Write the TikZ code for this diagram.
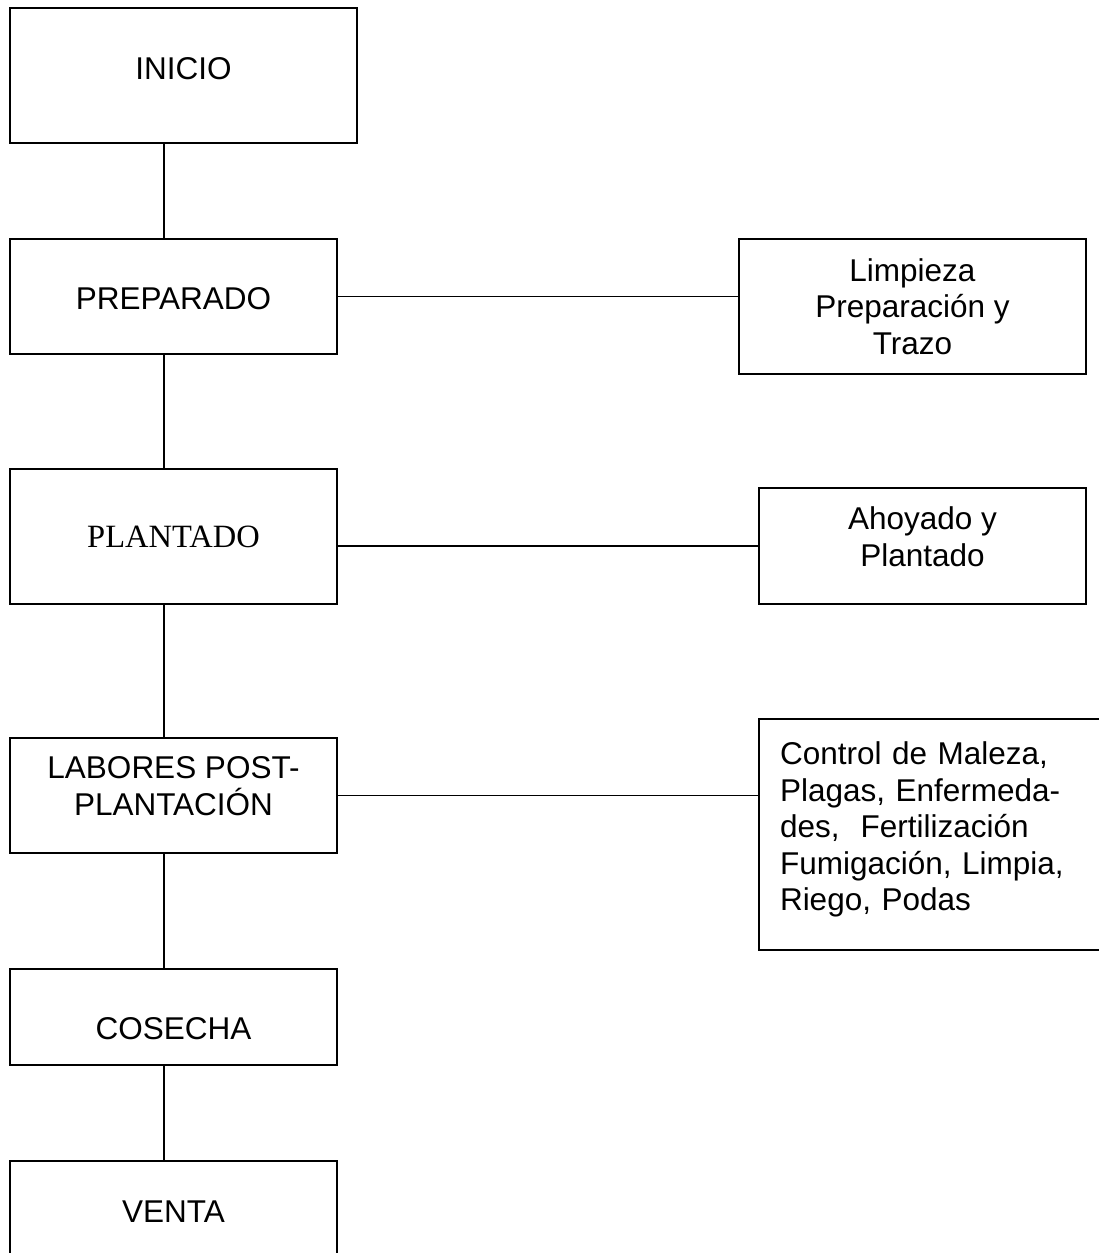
\documentclass[tikz,border=0pt]{standalone}
\usepackage{fontspec}
\setmainfont{Liberation Sans}
\newfontfamily\timesfont{Liberation Serif}
\usetikzlibrary{positioning}

\begin{document}
\begin{tikzpicture}[x=1pt, y=-1pt,
  stage/.style={draw, line width=1.3pt, inner sep=0pt, align=center,
    font=\fontsize{31.5}{36.5}\selectfont, minimum width=327pt},
  link/.style={line width=1.3pt}]
  \useasboundingbox (0,0) rectangle (1098,1253);

  % main column
  \node[stage, minimum width=347pt, minimum height=135pt, text depth=13pt] (inicio) at (183.5,75.5) {INICIO};
  \node[stage, minimum height=115pt, text height=27pt] (prep) at (173.5,296.5) {PREPARADO};
  \node[stage, minimum height=135pt, font=\timesfont\fontsize{32.5}{36.5}\selectfont] (plant) at (173.5,536.5) {PLANTADO};
  \node[stage, minimum height=115pt, text depth=19pt] (lab) at (173.5,795.5) {LABORES POST-\\PLANTACIÓN};
  \node[stage, minimum height=96pt, text height=45.5pt] (cose) at (173.5,1017) {COSECHA};
  \node[stage, minimum height=101pt] (venta) at (173.5,1211.5) {VENTA};

  % side tasks
  \node[stage, minimum width=347pt, minimum height=135pt] (limp) at (912.5,306.5) {Limpieza\\Preparación y\\Trazo};
  \node[stage, minimum height=116pt, text depth=19pt] (ahoy) at (922.5,546) {Ahoyado y\\Plantado};
  \node[stage, align=left, text width=319pt, minimum width=361pt, minimum height=231pt, text depth=162pt] (ctrl) at (939.5,834.5)
    {Control de Maleza,\\Plagas, Enfermeda-\\des, \ Fertilización\\Fumigación, Limpia,\\Riego, Podas};

  \coordinate (spine) at (164,0);
  \foreach \a/\b in {inicio/prep, prep/plant, plant/lab, lab/cose, cose/venta}
    \draw[link] (spine |- \a.south) -- (spine |- \b.north);

  \draw[link] (prep.east) -- (prep.east -| limp.west);
  \draw[link] (ahoy.west -| plant.east) -- (ahoy.west);
  \draw[link] (lab.east) -- (lab.east -| ctrl.west);
\end{tikzpicture}
\end{document}
